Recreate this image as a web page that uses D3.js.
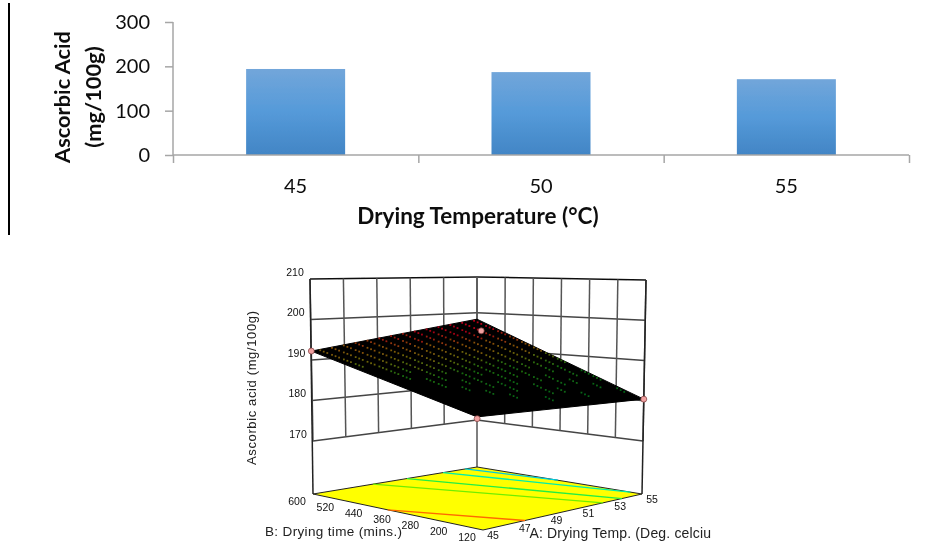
<!DOCTYPE html>
<html>
<head>
<meta charset="utf-8">
<script src="https://cdn.jsdelivr.net/npm/d3@7"></script>
<style>
  body { margin: 0; background: #fff; }
  svg { display: block; }
</style>
</head>
<body>
<svg width="928" height="542"></svg>
<script>
// bar chart values
const temps = ["45", "50", "55"];
const ascorbic = [194, 187, 171];
const barTicks = [0, 100, 200, 300];

// surface plot axes
const tempTicks = [45, 47, 49, 51, 53, 55];
const timeTicks = [600, 520, 440, 360, 280, 200, 120];
const acidTicks = [170, 180, 190, 200, 210];

// surface height at its four corners: [A, B, z]
const surfaceCorners = [[45, 600, 192.2], [55, 600, 198.2], [55, 120, 180.4], [45, 120, 182.6]];
const designPoints = [[45, 600, 192.2], [55, 588, 195], [55, 120, 180.4], [45, 120, 182.2]];

// contours on the floor: [A, B] at both ends
const contourColors = ["#ff6a00", "#70ee00", "#22ee44", "#00eeaa", "#00ccdd"];
const contourStart = [[45, 389], [48.66, 600], [50.73, 600], [52.93, 600], [54.27, 600]];
const contourEnd = [[47.64, 120], [52.55, 120], [53.74, 120], [55, 154], [55, 365]];

// z, rows B 600 -> 120, columns A 45 -> 55. null = no dot shows
const N = null;
const meshDots = [
  [N, 192, 193, 193, 194, 194, 195, 195, 195, 196, 196, 197, 197, 198, 198],
  [N, 192, 192, 193, 193, 193, 194, 194, 195, 195, 195, 196, 196, 197, 197],
  [N, 191, 191, 192, 192, 192, 193, 193, 193, 194, 194, 194, 195, 195, 195],
  [N, 190, 191, 191, 191, 191, 192, 192, 192, 192, 193, 193, 193, 194, 194],
  [N, N, 190, 190, 190, 190, 191, 191, 191, 191, 192, 192, 192, 193, 193],
  [N, N, 189, 189, 190, 190, 190, 190, 190, 190, 191, 191, 191, 192, 192],
  [N, N, 188, N, 189, 189, 189, 189, 189, 189, 189, 190, 190, 190, 190],
  [N, N, N, 188, 188, N, 188, 188, 188, 188, 188, 189, 189, 189, 189],
  [N, N, N, 187, N, 187, 187, N, 187, 188, 188, N, 188, 188, N],
  [N, N, N, N, 186, N, 186, 186, 186, N, 187, 187, N, 187, 186],
  [N, N, N, N, N, 186, N, 186, N, 186, N, 186, 186, N, 185],
  [N, N, N, N, N, N, 185, N, N, 185, 185, N, N, 185, N],
  [N, N, N, N, N, N, N, N, 184, N, N, 184, N, N, 184],
  [N, N, N, N, N, N, N, N, N, N, N, N, N, N, N],
  [N, N, N, N, N, N, N, N, N, N, N, N, N, N, N]
];

const svg = d3.select("svg");

// soft edge like the scanned figure
svg.append("defs").append("filter")
    .attr("id", "soft")
    .append("feGaussianBlur")
    .attr("stdDeviation", 0.35);

const grad = svg.select("defs").append("linearGradient")
    .attr("id", "barFill")
    .attr("x1", 0).attr("y1", 0).attr("x2", 0).attr("y2", 1);
grad.append("stop").attr("offset", "0%").attr("stop-color", "#72a6da");
grad.append("stop").attr("offset", "50%").attr("stop-color", "#559ad9");
grad.append("stop").attr("offset", "100%").attr("stop-color", "#4285c5");

//--- top chart ---
const bars = svg.append("g").attr("filter", "url(#soft)");

bars.append("line")
    .attr("x1", 9).attr("x2", 9)
    .attr("y1", 3).attr("y2", 235)
    .attr("stroke", "#000")
    .attr("stroke-width", 2);

const xBand = d3.scaleBand().domain(temps).range([173, 909]).paddingInner(0.5965).paddingOuter(0.298);
const xEdge = d3.scaleLinear().domain([0, 3]).range([173, 909]);
const yBar = d3.scaleLinear().domain([0, 300]).range([155, 22]);

bars.selectAll("rect.bar")
    .data(ascorbic)
    .enter()
    .append("rect")
    .attr("class", "bar")
    .attr("x", (d, i) => xBand(temps[i]))
    .attr("y", d => yBar(d))
    .attr("width", xBand.bandwidth())
    .attr("height", d => yBar(0) - yBar(d))
    .attr("fill", "url(#barFill)");

const yAxis = bars.append("g")
    .attr("transform", "translate(173,0)")
    .call(d3.axisLeft(yBar).tickValues(barTicks).tickSize(8).tickPadding(15));
const xAxis = bars.append("g")
    .attr("transform", "translate(0,155)")
    .call(d3.axisBottom(xEdge).ticks(3).tickSize(8).tickFormat(""));

bars.selectAll(".domain, .tick line")
    .attr("stroke", "#a6a6a6")
    .attr("stroke-width", 1.5);
xAxis.select(".domain").attr("d", "M173,0H909");
yAxis.select(".domain").attr("d", "M0,22V155");
yAxis.selectAll("text")
    .attr("font-family", "Lato")
    .attr("font-size", 20)
    .attr("fill", "#111");

bars.selectAll("text.cat")
    .data(temps)
    .enter()
    .append("text")
    .attr("class", "cat")
    .attr("x", d => xBand(d) + xBand.bandwidth() / 2)
    .attr("y", 193)
    .attr("text-anchor", "middle")
    .attr("font-family", "Lato")
    .attr("font-size", 20)
    .attr("fill", "#111")
    .text(d => d);

bars.append("text")
    .attr("x", 478).attr("y", 224)
    .attr("text-anchor", "middle")
    .attr("font-family", "Lato")
    .attr("font-weight", 700)
    .attr("font-size", 22.5)
    .attr("fill", "#111")
    .text("Drying Temperature (°C)");

["Ascorbic Acid", "(mg/100g)"].forEach((t, i) => {
  bars.append("text")
      .attr("transform", `translate(${70 + i * 31},97) rotate(-90)`)
      .attr("text-anchor", "middle")
      .attr("font-family", "Lato")
      .attr("font-weight", 700)
      .attr("font-size", 21.8)
      .attr("fill", "#111")
      .text(t);
});

//--- surface plot ---
const plot = svg.append("g").attr("filter", "url(#soft)");

const uOf = d3.scaleLinear().domain([45, 55]).range([0, 1]);
const vOf = d3.scaleLinear().domain([600, 120]).range([0, 1]);

// each upright of the box gets its own z scales, order: left, back, right, front
const zx = [[313, 310], [477, 477], [643, 646], [478.5, 474]]
    .map(r => d3.scaleLinear().domain([170, 210]).range(r));
const zy = [[441, 279], [420, 277], [441, 280], [472, 297]]
    .map(r => d3.scaleLinear().domain([170, 210]).range(r));
const floorPts = [[313, 494], [477, 467], [642, 494], [483, 530]];

function mix(p, u, v) {
  return (1 - v) * ((1 - u) * p[0] + u * p[1]) + v * ((1 - u) * p[3] + u * p[2]);
}
function project(a, b, z) {
  const u = uOf(a), v = vOf(b);
  return [mix(zx.map(s => s(z)), u, v), mix(zy.map(s => s(z)), u, v)];
}
function projectFloor(a, b) {
  const u = uOf(a), v = vOf(b);
  return [mix(floorPts.map(p => p[0]), u, v), mix(floorPts.map(p => p[1]), u, v)];
}
function surfaceZ(a, b) {
  return mix(surfaceCorners.map(c => c[2]), uOf(a), vOf(b));
}
const line2 = (p, q) => `M${p[0]},${p[1]}L${q[0]},${q[1]}`;

// back walls
const grid = plot.append("g")
    .attr("fill", "none")
    .attr("stroke", "#555")
    .attr("stroke-width", 1.5);

acidTicks.forEach(z => {
  const color = z === 210 ? "#111" : "#444";
  grid.append("path").attr("stroke", color).attr("d", line2(project(45, 600, z), project(55, 600, z)));
  grid.append("path").attr("stroke", color).attr("d", line2(project(55, 600, z), project(55, 120, z)));
});
tempTicks.forEach(a => {
  grid.append("path").attr("d", line2(project(a, 600, 170), project(a, 600, 210)));
});
timeTicks.forEach(b => {
  grid.append("path").attr("d", line2(project(55, b, 170), project(55, b, 210)));
});

// corner posts down to the floor
grid.append("path").attr("stroke", "#222").attr("d", line2(project(45, 600, 210), floorPts[0]));
grid.append("path").attr("d", line2(project(55, 600, 170), floorPts[1]));
grid.append("path").attr("stroke", "#222").attr("d", line2(project(55, 120, 210), floorPts[2]));

// floor with contours
plot.append("polygon")
    .attr("points", floorPts.join(" "))
    .attr("fill", "#ffff00")
    .attr("stroke", "#222")
    .attr("stroke-width", 1);

plot.selectAll("path.contour")
    .data(contourColors)
    .enter()
    .append("path")
    .attr("class", "contour")
    .attr("d", (d, i) => line2(projectFloor(...contourStart[i]), projectFloor(...contourEnd[i])))
    .attr("fill", "none")
    .attr("stroke", d => d)
    .attr("stroke-width", 1.3);

// floor axis labels
const labelStyle = sel => sel
    .attr("font-family", "Liberation Sans")
    .attr("font-size", 10.5)
    .attr("fill", "#111")
    .attr("text-anchor", "middle")
    .attr("dominant-baseline", "middle");

plot.selectAll("text.time")
    .data(timeTicks)
    .enter()
    .append("text")
    .attr("class", "time")
    .attr("x", d => projectFloor(45, d)[0] - 16)
    .attr("y", d => projectFloor(45, d)[1] + 8)
    .call(labelStyle)
    .text(d => d);

plot.selectAll("text.temp")
    .data(tempTicks)
    .enter()
    .append("text")
    .attr("class", "temp")
    .attr("x", d => projectFloor(d, 120)[0] + 10)
    .attr("y", d => projectFloor(d, 120)[1] + 6)
    .call(labelStyle)
    .text(d => d);

plot.selectAll("text.acid")
    .data(acidTicks)
    .enter()
    .append("text")
    .attr("class", "acid")
    .attr("x", d => project(45, 600, d)[0] - 15)
    .attr("y", d => project(45, 600, d)[1] - 6)
    .call(labelStyle)
    .text(d => d);

// surface
plot.append("polygon")
    .attr("points", surfaceCorners.map(c => project(c[0], c[1], c[2])).join(" "))
    .attr("fill", "#000")
    .attr("stroke", "#000")
    .attr("stroke-width", 1);

const dotColor = d3.scaleLinear()
    .domain([185, 188.5, 190.5, 193, 195.5])
    .range(["#0b6414", "#1a6c10", "#66660a", "#86500a", "#a01212"]);
const rowB = d3.scaleLinear().domain([0, 14]).range([600, 120]);
const colA = d3.scaleLinear().domain([0, 14]).range([45, 55]);

// three dots per cell, the mesh shows as short strokes running down to the right
meshDots.forEach((row, r) => {
  row.forEach((z, c) => {
    if (z === null) return;
    [0.15, 0.45, 0.75].forEach(shift => {
      const a = colA(c - 0.4);
      const b = rowB(r + shift);
      const p = project(a, b, surfaceZ(a, b));
      plot.append("rect")
          .attr("x", p[0] - 0.9).attr("y", p[1] - 0.9)
          .attr("width", 1.8).attr("height", 1.8)
          .attr("fill", dotColor(z));
    });
  });
});

plot.selectAll("circle.design")
    .data(designPoints)
    .enter()
    .append("circle")
    .attr("class", "design")
    .attr("cx", d => project(d[0], d[1], d[2])[0])
    .attr("cy", d => project(d[0], d[1], d[2])[1])
    .attr("r", 3)
    .attr("fill", "#f0a0a0")
    .attr("stroke", "#7a3a3a")
    .attr("stroke-width", 0.7);

// axis titles
plot.append("text")
    .attr("transform", "translate(256,388) rotate(-90)")
    .attr("text-anchor", "middle")
    .attr("font-family", "Liberation Sans")
    .attr("font-size", 13)
    .attr("textLength", 154)
    .attr("fill", "#222")
    .text("Ascorbic acid (mg/100g)");

plot.append("text")
    .attr("x", 265).attr("y", 536)
    .attr("font-family", "Liberation Sans")
    .attr("font-size", 13.5)
    .attr("textLength", 137)
    .attr("fill", "#222")
    .text("B: Drying time (mins.)");

plot.append("text")
    .attr("x", 529.5).attr("y", 538)
    .attr("font-family", "Liberation Sans")
    .attr("font-size", 14)
    .attr("textLength", 181.5)
    .attr("fill", "#222")
    .text("A: Drying Temp. (Deg. celciu");
</script>
</body>
</html>
